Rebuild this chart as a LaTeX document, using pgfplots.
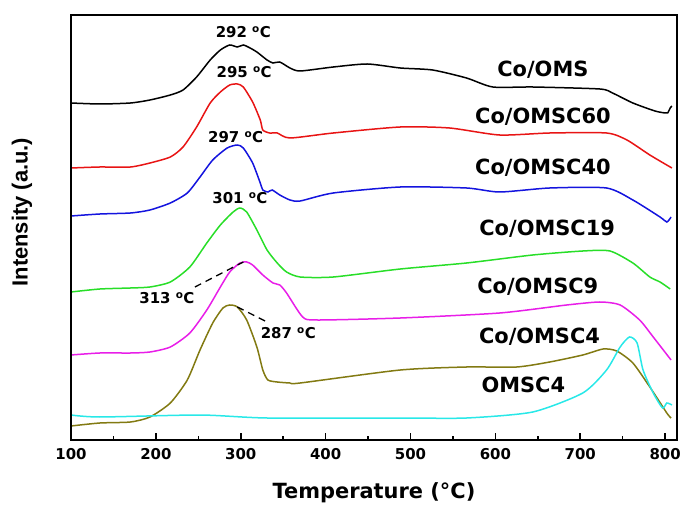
\documentclass[border=0pt]{standalone}
\usepackage{pgfplots}
\pgfplotsset{compat=1.18}
\usepackage{fontspec}
\setmainfont{DejaVu Sans}
\newfontfamily\ylabfont{Liberation Sans}
\definecolor{cgreen}{RGB}{40,222,40}
\definecolor{cmag}{RGB}{232,30,232}
\definecolor{colive}{RGB}{130,122,18}
\definecolor{ccyan}{RGB}{40,232,232}
\definecolor{cblue}{RGB}{20,20,222}
\definecolor{cred}{RGB}{232,20,20}
\begin{document}
\begin{tikzpicture}
\useasboundingbox (-71bp,-65bp) rectangle (609bp,440bp);
\begin{axis}[
  at={(0,0)}, anchor=south west,
  scale only axis, width=606bp, height=425bp,
  xmin=100, xmax=814, ymin=0, ymax=425,
  xtick={100,200,...,800}, minor x tick num=1,
  ytick=\empty,
  xtick pos=left, tick align=inside,
  major tick length=7bp, minor tick length=4bp,
  major tick style={line width=1.6bp, black},
  minor tick style={line width=1.4bp, black},
  axis line style={line width=1.8bp, black},
  /pgf/number format/assume math mode=true,
  xticklabel style={font=\fontsize{15}{16}\selectfont\bfseries, yshift=-5bp},
  xlabel={Temperature (°C)},
  xlabel style={font=\fontsize{21}{22}\selectfont\bfseries, at={(axis description cs:0.5,0)}, anchor=center, yshift=-53bp},
  ylabel={\ylabfont\bfseries Intensity (a.u.)},
  ylabel style={font=\fontsize{22}{23}\selectfont, at={(axis description cs:-0.081,0.536)}, anchor=center},
  every axis plot/.append style={line width=1.5bp, smooth, tension=0.4},
  clip mode=individual,
]
% Co/OMS
\addplot[black] coordinates {(100,337)(134,336)(170,337)(193,340)(217,345)(232,350)(248,363)(264,380)(276,390)(287,395)(296,393)(303,395)(311,392)(319,388)(331,380)(338,377)(346,378)(358,372)(370,369)(409,373)(449,376)(488,372)(526,370)(566,362)(597,353)(644,353)(723,351)(738,347)(762,337)(788,329)(800,327)(803,327)(806,332)(808,334)};
% Co/OMSC60
\addplot[cred] coordinates {(100,272)(134,273)(170,273)(193,277)(217,283)(232,293)(248,313)(264,337)(276,348)(287,355)(296,356)(303,353)(314,338)(323,320)(326,310)(334,307)(343,307)(358,302)(409,307)(488,313)(546,312)(605,305)(664,307)(731,307)(755,300)(782,285)(808,272)};
% Co/OMSC40
\addplot[cblue] coordinates {(100,224)(134,226)(170,227)(193,230)(217,237)(237,247)(252,263)(267,280)(284,292)(296,295)(303,292)(314,277)(323,257)(326,250)(332,248)(337,250)(346,245)(358,240)(370,239)(409,247)(488,253)(566,252)(605,248)(664,252)(731,252)(762,240)(794,223)(802,218)(807,223)};
% Co/OMSC19
\addplot[cgreen] coordinates {(100,148)(134,151)(170,152)(193,153)(217,158)(240,173)(260,197)(276,215)(291,228)(299,232)(307,228)(319,210)(331,190)(343,177)(354,168)(370,163)(409,163)(488,171)(566,177)(644,185)(703,189)(735,189)(762,177)(782,163)(794,158)(806,151)};
% Co/OMSC9
\addplot[cmag] coordinates {(100,85)(134,87)(170,87)(193,88)(217,93)(240,107)(260,130)(276,153)(287,168)(299,177)(307,178)(314,175)(326,165)(338,157)(346,155)(354,147)(373,123)(390,120)(488,122)(605,127)(684,135)(723,138)(747,135)(770,120)(786,103)(807,80)};
% Co/OMSC4
\addplot[colive] coordinates {(100,14)(134,17)(170,18)(193,23)(217,37)(237,60)(252,90)(267,117)(279,132)(287,135)(296,133)(307,120)(319,93)(326,70)(332,60)(343,58)(358,57)(370,57)(488,70)(566,73)(625,73)(664,78)(703,85)(727,91)(743,89)(762,77)(782,53)(802,27)(807,22)};
% OMSC4
\addplot[ccyan] coordinates {(100,25)(134,23)(252,25)(331,22)(488,22)(566,22)(644,28)(703,47)(731,70)(747,93)(758,103)(767,97)(774,70)(786,47)(797,32)(802,37)(808,35)};
% dashed guides
\addplot[black, line width=1.3bp, dash pattern=on 7bp off 5bp, sharp plot] coordinates {(246,153)(303,178)};
\addplot[black, line width=1.3bp, dash pattern=on 7bp off 5bp, sharp plot] coordinates {(296,133)(331,118)};
% tick marks drawn as short segments on the axis scale (1 unit = 1bp)
\addplot[black, line width=1.6bp, sharp plot, unbounded coords=jump, forget plot] coordinates {(100,0)(100,7)(200,nan)(200,0)(200,7)(300,nan)(300,0)(300,7)(400,nan)(400,0)(400,7)(500,nan)(500,0)(500,7)(600,nan)(600,0)(600,7)(700,nan)(700,0)(700,7)(800,nan)(800,0)(800,7)};
\addplot[black, line width=1.4bp, sharp plot, unbounded coords=jump, forget plot] coordinates {(150,0)(150,4)(250,nan)(250,0)(250,4)(350,nan)(350,0)(350,4)(450,nan)(450,0)(450,4)(550,nan)(550,0)(550,4)(650,nan)(650,0)(650,4)(750,nan)(750,0)(750,4)};
% frame
\draw[line width=1.8bp, black] (rel axis cs:0,0) rectangle (rel axis cs:1,1);
% labels
\begin{scope}[every node/.style={font=\fontsize{21}{22}\selectfont\bfseries, anchor=center}]
\node at (axis cs:656,370) {Co/OMS};
\node at (axis cs:656,323) {Co/OMSC60};
\node at (axis cs:656,272) {Co/OMSC40};
\node at (axis cs:661,211) {Co/OMSC19};
\node at (axis cs:650,153) {Co/OMSC9};
\node at (axis cs:652,103) {Co/OMSC4};
\node at (axis cs:633,55) {OMSC4};
\end{scope}
\begin{scope}[every node/.style={font=\fontsize{15}{16}\selectfont\bfseries, anchor=center}]
\node at (axis cs:303,408) {292 \textsuperscript{o}C};
\node at (axis cs:304,368) {295 \textsuperscript{o}C};
\node at (axis cs:294,303) {297 \textsuperscript{o}C};
\node at (axis cs:299,242) {301 \textsuperscript{o}C};
\node at (axis cs:213,142) {313 \textsuperscript{o}C};
\node at (axis cs:356,107) {287 \textsuperscript{o}C};
\end{scope}
\end{axis}
\end{tikzpicture}
\end{document}
